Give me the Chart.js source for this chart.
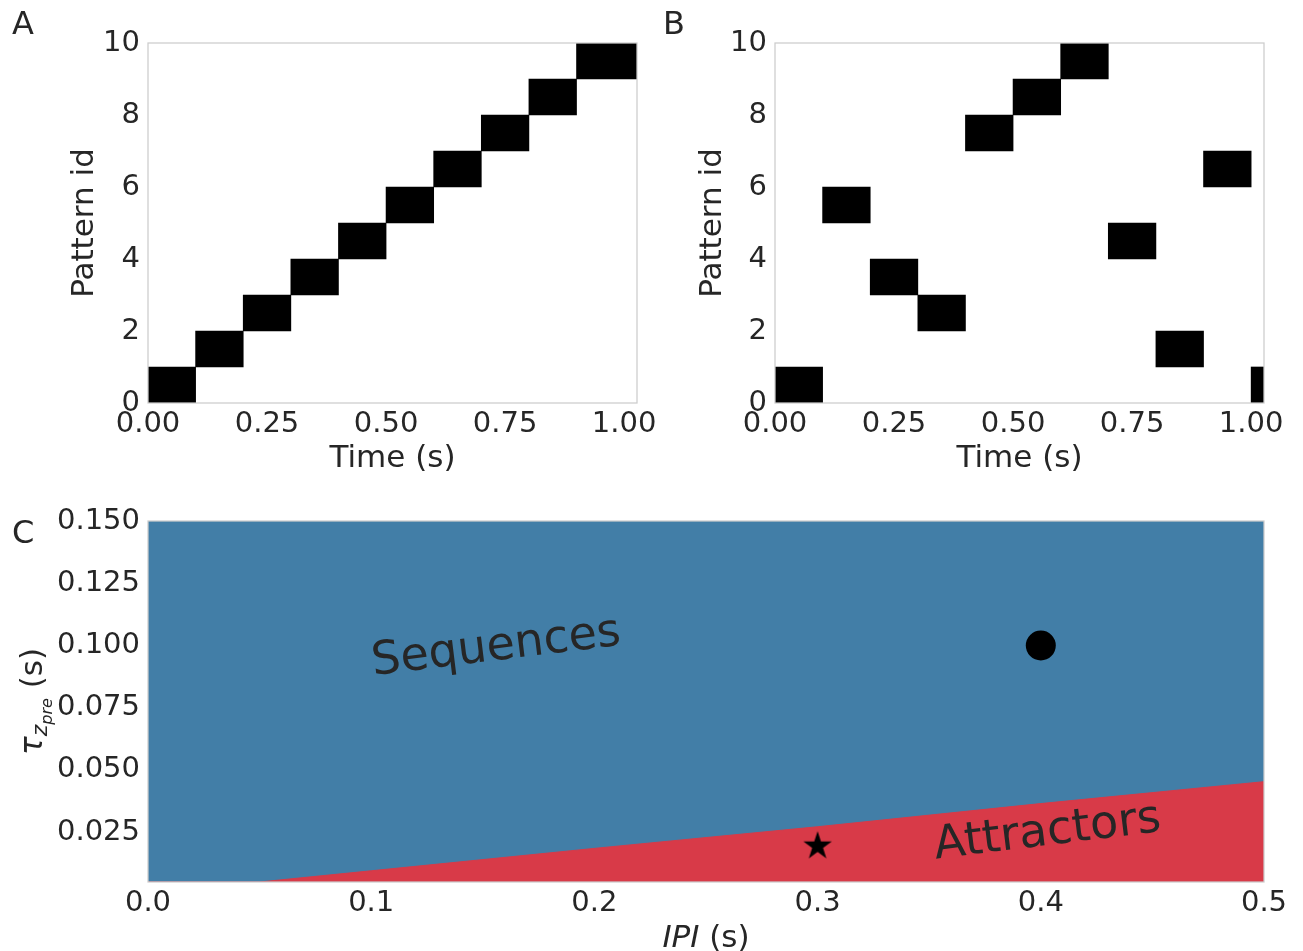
<!DOCTYPE html>
<html>
<head>
<meta charset="utf-8">
<script src="https://cdn.jsdelivr.net/npm/chart.js@4.4.1/dist/chart.umd.min.js"></script>
<style>
  html, body { margin: 0; padding: 0; background: #fff; }
  #wrap { position: relative; width: 1303px; height: 951px; }
  canvas { position: absolute; }
</style>
</head>
<body>
<div id="wrap">
  <canvas id="chartA" width="660" height="480" style="left:0;top:0"></canvas>
  <canvas id="chartB" width="663" height="480" style="left:640px;top:0"></canvas>
  <canvas id="chartC" width="1303" height="471" style="left:0;top:480px"></canvas>
</div>
<script>
// panels A and B: which pattern is active when
const tMax = 1.027;
const timeTicks = [0, 0.25, 0.5, 0.75, 1.0];

const patternsA = [0, 1, 2, 3, 4, 5, 6, 7, 8, 9];
const onsetsA = [0, 0.1, 0.2, 0.3, 0.4, 0.5, 0.6, 0.7, 0.8, 0.9];
const offsetsA = [0.1, 0.2, 0.3, 0.4, 0.5, 0.6, 0.7, 0.8, 0.9, 1.027];

const patternsB = [0, 5, 3, 2, 7, 8, 9, 4, 1, 6, 0];
const onsetsB = [0, 0.1, 0.2, 0.3, 0.4, 0.5, 0.6, 0.7, 0.8, 0.9, 1.0];
const offsetsB = [0.1, 0.2, 0.3, 0.4, 0.5, 0.6, 0.7, 0.8, 0.9, 1.0, 1.027];

// panel C: phase diagram
const ipiTicks = [0, 0.1, 0.2, 0.3, 0.4, 0.5];
const tauTicks = [0.025, 0.05, 0.075, 0.1, 0.125, 0.15];
const tauMin = 0.005, tauMax = 0.15;
const boundaryIPI = [0, 0.05, 0.1, 0.2, 0.3, 0.4, 0.5];
const boundaryTau = [0.005, 0.005, 0.0095, 0.0185, 0.0272, 0.0365, 0.0453];
const sequencePoint = {x: 0.4, y: 0.1};
const attractorPoint = {x: 0.3, y: 0.02};

const ink = '#262626';
const blue = '#427ea7';
const red = '#d83a48';

Chart.defaults.font.family = '"DejaVu Sans"';
Chart.defaults.font.size = 29;
Chart.defaults.color = ink;

function fixAxis(size) {
  return function (scale) {
    if (scale.isHorizontal()) scale.height = size; else scale.width = size;
    scale.paddingLeft = scale.paddingRight = scale.paddingTop = scale.paddingBottom = 0;
  };
}
function setTicks(values) {
  return function (scale) { scale.ticks = values.map(v => ({value: v})); };
}

function decor(letter, lx, ly) {
  return {
    id: 'decor',
    afterDatasetsDraw(chart) {
      const {ctx, chartArea: a} = chart;
      ctx.save();
      ctx.strokeStyle = '#cccccc';
      ctx.lineWidth = 1.25;
      ctx.strokeRect(a.left, a.top, a.right - a.left, a.bottom - a.top);
      ctx.restore();
    },
    afterDraw(chart) {
      const ctx = chart.ctx;
      ctx.save();
      ctx.fillStyle = ink;
      ctx.font = '32px "DejaVu Sans"';
      ctx.textBaseline = 'alphabetic';
      ctx.fillText(letter, lx, ly);
      ctx.restore();
    }
  };
}

const noGrid = {display: false, drawTicks: false};

function patternChart(id, patterns, onsets, offsets, yWidth, titlePad, rightPad, letter, letterX) {
  return new Chart(document.getElementById(id), {
    type: 'bar',
    data: {
      datasets: [{
        data: patterns.map((p, i) => ({y: p + 0.5, x: [onsets[i], offsets[i]]})),
        backgroundColor: '#000',
        borderWidth: 0,
        barPercentage: 1,
        categoryPercentage: 1
      }]
    },
    options: {
      indexAxis: 'y',
      responsive: false,
      animation: false,
      layout: {padding: {left: 0, top: 43, right: rightPad, bottom: 0}},
      plugins: {legend: {display: false}, tooltip: {enabled: false}},
      scales: {
        x: {
          type: 'linear', min: 0, max: tMax,
          grid: noGrid, border: {display: false},
          afterBuildTicks: setTicks(timeTicks),
          afterFit: fixAxis(77),
          ticks: {padding: 4, maxRotation: 0, autoSkip: false, callback: v => v.toFixed(2)},
          title: {display: true, text: 'Time (s)', font: {size: 31}, padding: {top: 0, bottom: 2}}
        },
        y: {
          type: 'linear', min: 0, max: 10, offset: false,
          grid: noGrid, border: {display: false},
          afterFit: fixAxis(yWidth),
          ticks: {stepSize: 2, padding: 8},
          title: {display: true, text: 'Pattern id', font: {size: 31}, padding: {top: titlePad, bottom: 0}}
        }
      }
    },
    plugins: [decor(letter, letterX, 34)]
  });
}

patternChart('chartA', patternsA, onsetsA, offsetsA, 148, 66, 23, 'A', 12);
patternChart('chartB', patternsB, onsetsB, offsetsB, 135, 54, 39, 'B', 23);

// filled five-point star marker
function starMarker(R) {
  const c = document.createElement('canvas');
  c.width = c.height = Math.ceil(2 * R + 2);
  const g = c.getContext('2d');
  const cx = c.width / 2, cy = c.height / 2 + R * 0.1;
  const r = R * 0.382;
  g.beginPath();
  for (let k = 0; k < 10; k++) {
    const rad = k % 2 ? r : R;
    const ang = -Math.PI / 2 + k * Math.PI / 5;
    g.lineTo(cx + rad * Math.cos(ang), cy + rad * Math.sin(ang));
  }
  g.closePath();
  g.fillStyle = '#000';
  g.fill();
  return c;
}

const phaseDecor = {
  id: 'phaseDecor',
  afterDatasetsDraw(chart) {
    const {ctx, scales: {x, y}} = chart;
    const label = (txt, px, py) => {
      ctx.save();
      ctx.translate(x.getPixelForValue(px), y.getPixelForValue(py));
      ctx.rotate(-7 * Math.PI / 180);
      ctx.font = '46px "DejaVu Sans"';
      ctx.fillStyle = ink;
      ctx.textAlign = 'center';
      ctx.textBaseline = 'middle';
      ctx.fillText(txt, 0, 0);
      ctx.restore();
    };
    label('Sequences', 0.156, 0.099);
    label('Attractors', 0.403, 0.0247);
  },
  afterDraw(chart) {
    const {ctx, chartArea: a} = chart;
    ctx.save();
    ctx.fillStyle = ink;
    ctx.textBaseline = 'alphabetic';
    ctx.textAlign = 'left';
    // x title: IPI (s)
    const fi = 'italic 31px "DejaVu Sans"', fn = '31px "DejaVu Sans"';
    ctx.font = fi; const w1 = ctx.measureText('IPI').width;
    ctx.font = fn; const w2 = ctx.measureText(' (s)').width;
    const sx = (a.left + a.right) / 2 - (w1 + w2) / 2;
    ctx.font = fi; ctx.fillText('IPI', sx, 467);
    ctx.font = fn; ctx.fillText(' (s)', sx + w1, 467);
    // y title: tau_{z_pre} (s)
    const parts = [
      ['τ', 'italic 31px "DejaVu Sans"', 0],
      ['z', 'italic 22px "DejaVu Sans"', 5],
      ['pre', 'italic 16px "DejaVu Sans"', 10],
      [' (s)', '31px "DejaVu Sans"', 0]
    ];
    let total = 0;
    parts.forEach(p => { ctx.font = p[1]; p.push(ctx.measureText(p[0]).width); total += p[3]; });
    ctx.translate(a.left - 106, (a.top + a.bottom) / 2 + total / 2);
    ctx.rotate(-Math.PI / 2);
    let px = 0;
    parts.forEach(p => { ctx.font = p[1]; ctx.fillText(p[0], px, p[2]); px += p[3]; });
    ctx.restore();
  }
};

new Chart(document.getElementById('chartC'), {
  type: 'line',
  data: {
    datasets: [
      {
        label: 'Attractor state',
        data: [attractorPoint],
        showLine: false,
        pointStyle: starMarker(15),
        pointRadius: 15,
        order: 0
      },
      {
        label: 'Sequence state',
        data: [sequencePoint],
        showLine: false,
        pointRadius: 15,
        pointBackgroundColor: '#000',
        pointBorderWidth: 0,
        order: 1
      },
      {
        label: 'Attractors',
        data: boundaryIPI.map((v, i) => ({x: v, y: boundaryTau[i]})),
        fill: 'start',
        backgroundColor: red,
        borderColor: red,
        borderWidth: 1,
        pointRadius: 0,
        order: 2
      },
      {
        label: 'Sequences',
        data: [{x: ipiTicks[0], y: tauMax}, {x: ipiTicks[ipiTicks.length - 1], y: tauMax}],
        fill: 'start',
        backgroundColor: blue,
        borderWidth: 0,
        pointRadius: 0,
        order: 3
      }
    ]
  },
  options: {
    responsive: false,
    animation: false,
    layout: {padding: {left: 0, top: 41, right: 39, bottom: 0}},
    plugins: {legend: {display: false}, tooltip: {enabled: false}},
    scales: {
      x: {
        type: 'linear', min: 0, max: 0.5,
        grid: noGrid, border: {display: false},
        afterBuildTicks: setTicks(ipiTicks),
        afterFit: fixAxis(69),
        ticks: {padding: 4, maxRotation: 0, autoSkip: false, callback: v => v.toFixed(1)}
      },
      y: {
        type: 'linear', min: tauMin, max: tauMax,
        grid: noGrid, border: {display: false},
        afterBuildTicks: setTicks(tauTicks),
        afterFit: fixAxis(148),
        ticks: {padding: 8, autoSkip: false, callback: v => v.toFixed(3)}
      }
    }
  },
  plugins: [decor('C', 12, 63), phaseDecor]
});
</script>
</body>
</html>
